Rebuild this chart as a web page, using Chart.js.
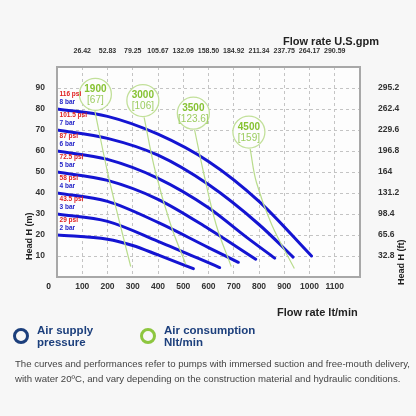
<!DOCTYPE html>
<html><head><meta charset="utf-8">
<script src="https://cdn.jsdelivr.net/npm/chart.js@4"></script>
<style>
body{margin:0;background:#f7f7f7;font-family:Arial,"Liberation Sans",sans-serif;width:416px;height:416px;overflow:hidden;position:relative}
#wrap{position:absolute;left:0;top:0;width:416px;height:325px}
.leg{position:absolute;top:324px;font-weight:bold;font-size:11.5px;line-height:12px}
.ring{position:absolute;width:10px;height:10px;border-radius:50%;border:3.5px solid}
#note{position:absolute;left:15px;top:356px;width:400px;font-size:9.6px;line-height:15px;color:#444}
</style></head><body>
<div id="wrap"><canvas id="c" width="416" height="325"></canvas></div>
<div class="ring" style="left:13px;top:328px;border-color:#1c3f7c"></div>
<div class="leg" style="left:37px;color:#1c3f7c">Air supply<br>pressure</div>
<div class="ring" style="left:140px;top:328px;border-color:#8dc63f"></div>
<div class="leg" style="left:164px;color:#1c3f7c">Air consumption<br>Nlt/min</div>
<div id="note">The curves and performances refer to pumps with immersed suction and free-mouth delivery, with water 20ºC, and vary depending on the construction material and hydraulic conditions.</div>
<script>
const xTicks=[100,200,300,400,500,600,700,800,900,1000,1100];
const gpmLabels=["26.42","52.83","79.25","105.67","132.09","158.50","184.92","211.34","237.75","264.17","290.59"];
const yTicks=[10,20,30,40,50,60,70,80,90];
const ftLabels=["32.8","65.6","98.4","131.2","164","196.8","229.6","262.4","295.2"];
const barLabels=["8 bar","7 bar","6 bar","5 bar","4 bar","3 bar","2 bar"];
const psiLabels=["116 psi","101.5 psi","87 psi","72.5 psi","58 psi","43.5 psi","29 psi"];
const startHeads=[80,70,60,50,40,30,20];
const curve8=[[0,80],[200,76.5],[400,68],[600,55],[800,36],[1008,10]];
const curve7=[[0,70],[200,66],[400,58],[600,44],[800,25],[935,9.5]];
const curve6=[[0,60],[200,56],[400,47],[600,33],[750,19],[862,9]];
const curve5=[[0,50],[200,46],[400,37],[600,23],[787,8.5]];
const curve4=[[0,40],[200,36],[400,26],[600,14],[718,7]];
const curve3=[[0,30],[200,26.5],[400,17],[644,4.5]];
const curve2=[[0,20],[200,18],[300,15],[400,10.5],[540,4]];
const airLabels=["1900","3000","3500","4500"];
const airSub=["[67]","[106]","[123.6]","[159]"];
const airCenters=[[152,87],[340,84],[540,78],[760,69]];
const air1900=[[150,79],[200,50],[250,25],[292,5]];
const air3000=[[345,76],[390,50],[450,25],[510,6]];
const air3500=[[545,70],[580,50],[630,25],[690,5]];
const air4500=[[765,61],[790,45],[850,25],[940,4]];

const pts=a=>a.map(p=>({x:p[0],y:p[1]}));
const blue=[curve8,curve7,curve6,curve5,curve4,curve3,curve2].map(c=>({data:pts(c),showLine:true,borderColor:'#1414d2',borderWidth:3,pointRadius:0,cubicInterpolationMode:'monotone',borderCapStyle:'round'}));
const green=[air1900,air3000,air3500,air4500].map(c=>({data:pts(c),showLine:true,borderColor:'#b9dc8c',borderWidth:1.2,pointRadius:0,tension:0.4}));
const circles={data:pts(airCenters),showLine:false,pointRadius:16,pointHoverRadius:16,pointBackgroundColor:'rgba(253,253,253,0.95)',pointBorderColor:'#c2e09a',pointBorderWidth:1.3};

const deco={id:'deco',
beforeDraw(ch){const a=ch.chartArea,c=ch.ctx;c.fillStyle='#fdfdfd';c.fillRect(a.left,a.top,a.right-a.left,a.bottom-a.top);},
afterDraw(ch){const a=ch.chartArea,c=ch.ctx,x=ch.scales.x,y=ch.scales.y;
c.save();c.strokeStyle='#a8a8a8';c.lineWidth=2;c.strokeRect(a.left,a.top,a.right-a.left,a.bottom-a.top);
c.font='bold 6.5px Arial';c.textAlign='left';c.textBaseline='middle';
startHeads.forEach((h,i)=>{c.fillStyle='#e02020';c.fillText(psiLabels[i],x.getPixelForValue(10),y.getPixelForValue(h+7));
c.fillStyle='#2424c8';c.fillText(barLabels[i],x.getPixelForValue(10),y.getPixelForValue(h+3));});
c.textAlign='center';
airCenters.forEach((p,i)=>{const px=x.getPixelForValue(p[0]),py=y.getPixelForValue(p[1]);
c.fillStyle='#86c232';c.font='bold 10px Arial';c.fillText(airLabels[i],px,py-5);
c.fillStyle='#9ccc60';c.font='10px Arial';c.fillText(airSub[i],px,py+6);});
c.fillStyle='#222';c.font='bold 11px Arial';c.textAlign='left';
c.fillText('Flow rate U.S.gpm',283,42);c.fillText('Flow rate lt/min',277,313);
c.font='bold 8.5px Arial';c.textAlign='right';c.fillText('0',51,287);
c.font='bold 9px Arial';
c.save();c.translate(30,260);c.rotate(-Math.PI/2);c.textAlign='left';c.fillText('Head H (m)',0,0);c.restore();
c.save();c.translate(402,285);c.rotate(-Math.PI/2);c.textAlign='left';c.fillText('Head H (ft)',0,0);c.restore();
c.restore();}};

const tickFont={size:8.5,weight:'bold',family:'Arial'};
const grid={color:'#c4c4c4',tickLength:0,drawTicks:false};
const dash={dash:[3,3],display:true,color:'#a8a8a8'};
new Chart(document.getElementById('c'),{type:'scatter',
data:{datasets:[...green,...blue,circles]},
options:{responsive:false,animation:false,events:[],layout:{padding:0},
plugins:{legend:{display:false},tooltip:{enabled:false}},
scales:{
x:{type:'linear',min:0,max:1200,position:'bottom',afterBuildTicks:s=>{s.ticks=xTicks.map(v=>({value:v}))},
 afterFit:s=>{s.height=48},grid,border:dash,ticks:{color:'#333',font:tickFont,padding:5,callback:v=>String(v)}},
x2:{type:'linear',min:0,max:1200,position:'top',afterBuildTicks:s=>{s.ticks=xTicks.map(v=>({value:v}))},
 afterFit:s=>{s.height=67},grid:{display:false},border:{display:false},
 ticks:{color:'#333',font:{size:7,weight:'bold',family:'Arial'},padding:4,callback:(v)=>gpmLabels[xTicks.indexOf(v)]}},
y:{type:'linear',min:0,max:100,afterBuildTicks:s=>{s.ticks=yTicks.map(v=>({value:v}))},
 afterFit:s=>{s.width=57},grid,border:dash,ticks:{color:'#333',font:tickFont,padding:12}},
y2:{type:'linear',min:0,max:100,position:'right',afterBuildTicks:s=>{s.ticks=yTicks.map(v=>({value:v}))},
 afterFit:s=>{s.width=56},grid:{display:false},border:{display:false},
 ticks:{color:'#333',font:tickFont,padding:10,callback:(v)=>ftLabels[yTicks.indexOf(v)]}}
}},plugins:[deco]});
</script></body></html>
